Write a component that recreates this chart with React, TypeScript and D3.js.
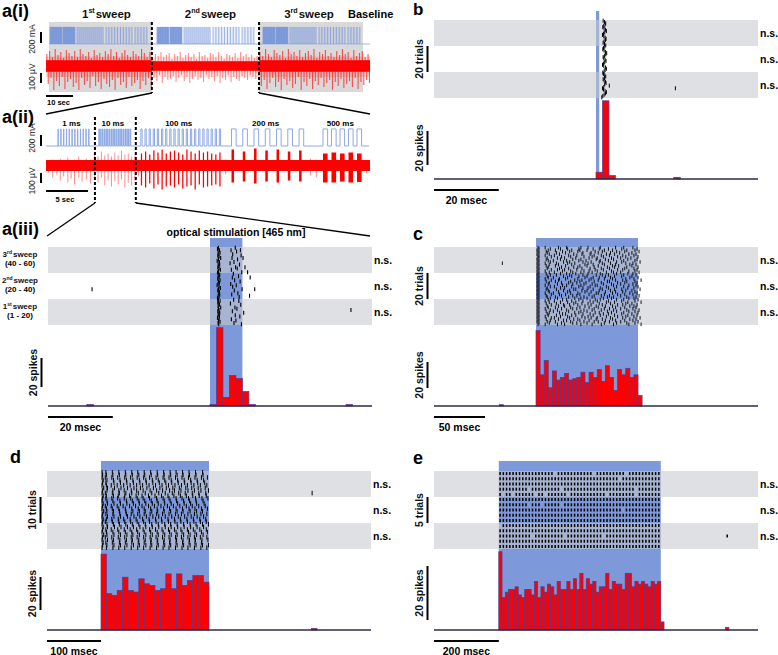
import React from 'react';
import * as d3 from 'd3';

const FONT = "'Liberation Sans', Arial, Helvetica, sans-serif";
const STIM = '#7d99da';
const BAND = '#c6c9ce';
const PULSE = '#7f9de0';
const RED = '#ff0000';
const BAR_STROKE = '#4a3c9c';

// ---------------- a(i) : three sweeps of the protocol ----------------
const aiSweepNames = ['1', '2', '3'];
const aiSweepSups = ['st', 'nd', 'rd'];
const aiSweepEdges = [0, 38, 77.6, 116]; // s
const aiTraceSpan = [-1.1, 118.6]; // s
const aiProtocolStart = [0.37, 39.9, 79.05]; // s
const aiBlockStart = [0, 4.8, 10, 20.7, 31.4]; // s after protocol start
const aiBlockEnd = [4.4, 9.2, 19.6, 30.3, 35.8];
const aiBlockPulses = [18, 18, 14, 10, 5];
const pulseAmpMA = 310;
const aiNoiseUV = [58, 48, 58];
const aiUpUV = [
  [120,150,90,170,110,140,80,160,130,100,150,90,170,120,100,140,80,160,110,130,90,150,120,170,100,140,80,130,160,110,90,150,120,100,170,130,90,140],
  [80,120,100,140,90,110,130,70,120,100,140,80,110,130,90,120,70,140,100,110,80,130,120,90,140,100,70,120,110,90,130,80,140,100,120,90,110,80,100],
  [140,100,170,120,90,160,130,110,150,80,170,120,140,100,160,90,130,150,110,170,80,140,120,160,100,130,90,150,110,170,120,140,80,160,100,130,150,90,120],
];
const aiDownUV = [
  [180,120,240,150,200,110,230,160,130,210,170,240,120,190,150,220,100,200,160,230,130,180,210,140,240,120,190,160,220,110,200,170,140,230,150,190,120,210],
  [120,150,90,170,110,140,130,100,160,120,90,150,110,170,130,100,140,120,160,90,130,110,150,100,170,120,140,90,160,110,130,150,100,120,140,90,110,130,100],
  [200,140,230,170,120,210,160,240,130,190,150,220,180,110,240,160,200,130,230,150,190,120,210,170,140,240,160,200,130,220,180,150,210,120,230,160,190,140,170],
];

// ---------------- a(ii) : one sweep ----------------
const aiiSpan = [0, 38.6]; // s
const aiiTrainLabels = ['1 ms', '10 ms', '100 ms', '200 ms', '500 ms'];
const aiiTrainStart = [1.43, 6.3, 11.3, 22.1, 33.0];
const aiiTrainEnd = [5.12, 10.1, 20.8, 30.7, 37.6];
const aiiTrainPulses = [12, 19, 20, 7, 5];
const aiiPulseWidth = [0.03, 0.06, 0.15, 0.55, 0.55];
const aiiRespWidth = [0, 0, 0.15, 0.3, 0.55];
const aiiDividers = [5.83, 10.7];
const aiiNoiseUV = 55;
const aiiSpont = [
  [0.3,40,70],[0.8,60,120],[1.3,50,90],[1.7,70,150],[2.1,40,110],[2.6,80,170],[3.0,50,130],[3.4,60,190],
  [3.9,90,120],[4.3,50,160],[4.8,70,140],[5.3,60,180],[5.8,110,130],[6.2,90,170],[6.6,140,120],[7.0,100,200],
  [7.4,120,150],[7.8,90,210],[8.2,130,160],[8.6,100,190],[9.0,150,140],[9.4,110,220],[9.8,120,170],[10.2,90,200],
  [10.6,100,150],[11.0,60,110],[21.4,60,90],[31.5,70,100],[32.2,60,120],[38.2,50,80],
];
const aiiRespUp = [
  [], [],
  [120,140,110,150,130,160,120,140,150,130,110,160,140,120,150,130,140,120,110,130],
  [160,140,170,150,160,140,150],
  [120,130,120,130,120],
];
const aiiRespDown = [
  [], [],
  [200,220,180,230,190,240,210,200,220,190,230,210,200,240,190,220,210,200,190,210],
  [170,160,180,160,170,150,160],
  [170,170,160,170,165],
];

// ---------------- a(iii) : 10 ms pulses ----------------
const a3RowNames = ['3', '2', '1'];
const a3RowSups = ['rd', 'nd', 'st'];
const a3RowRanges = ['(40 - 60)', '(20 - 40)', '(1 - 20)'];
const a3Trials = [
  [2.6,7.8],[2.3],[2.9,6.5,9.4],[2.5,8.2],[3.1],[2.7,7.0],[2.4,9.6],[2.8],[3.3,6.8,10.2],[2.6,8.5],
  [2.2],[2.9,7.4],[2.5,6.2],[3.0,9.1],[2.7],[2.4,7.9,10.8],[2.8,8.4],[3.2,6.6],[2.6],[2.3,9.8,11.6],
  [2.7,7.2],[3.0],[2.5,8.8],[2.8,6.9,12.4],[2.4],[3.1,7.6],[2.6,9.3],[2.9],[2.5,6.4],[2.2,8.1],
  [2.8,7.0],[3.2],[-36.4,2.6,9.9,13.8],[2.4,7.5],[2.9],[2.7,8.6],[3.0,6.7],[2.5,12.2],[2.8,9.0],[2.3],
  [2.6,7.3],[3.1,8.9],[2.4],[2.7,6.3],[2.9,9.5],[2.5],[3.3,7.7],[2.6,8.3],[2.8,43.5],[2.4,6.9],
  [3.0,10.4],[2.7],[2.5,7.8],[2.9,9.2],[2.3],[2.8,6.6],[2.6,8.0],[3.1],[2.5,7.4],[2.7,9.7],
];
const a3Hist = [1, 54, 6, 21, 19, 10, 1];
const a3HistExtra = [[-38, 1], [42, 1]];

// ---------------- b : 1 ms pulses ----------------
const bLatency = [
  2.2,2.6,3.0,2.8,2.4,2.1,2.5,2.9,3.2,2.7,2.3,2.0,2.4,2.8,3.1,2.9,2.5,2.2,2.6,3.0,
  2.7,2.3,2.1,2.5,2.9,3.3,3.0,2.6,2.2,2.4,2.8,3.1,2.7,2.3,2.0,2.4,2.9,3.2,2.8,2.5,
  2.1,2.3,2.7,3.0,2.6,2.2,2.5,2.9,3.1,2.7,4.1,2.4,2.0,2.3,2.8,3.2,2.9,2.5,2.1,1.8,
];
const bExtra = [[52, 24.5]];
const bHist = [4, 46, 2];
const bHistExtra = [[24, 1]];

// ---------------- c : 100 ms pulses ----------------
const cTrials = [
  [2,9,22,30,44,51,63,78,86,95],[3,14,24,31,42,56,62,71,84,99],[1,12,19,35,43,50,67,75,89,97],
  [2,10,26,33,41,58,65,79,87,101],[3,11,20,29,46,54,61,73,82,94],[1,13,23,37,45,53,69,77,91,98],
  [2,9,18,32,40,57,64,72,85,96],[3,15,25,34,47,55,66,80,88,100],[2,11,21,28,39,52,60,74,83,93],
  [1,10,24,36,44,59,68,76,90,99],[3,12,17,30,42,49,63,71,86,97],[2,14,27,33,46,54,62,79,84,102],
  [1,9,20,31,38,51,65,73,88,95],[3,13,22,35,48,56,67,78,92,98],[2,10,19,29,43,50,61,75,81,94],
  [1,12,25,37,41,57,70,77,89,100],[3,11,23,32,45,53,64,72,87,96],[2,15,21,28,40,58,66,80,85,99],
  [1,9,26,34,47,52,60,74,91,97],[3,13,18,36,44,55,69,76,83,101],[2,10,24,30,39,51,63,79,90,95],
  [1,14,20,33,46,59,65,71,86,98],[3,11,27,35,42,50,68,77,84,94],[2,12,17,31,48,56,62,73,92,100],
  [1,9,23,29,41,54,67,75,88,96],[3,15,22,38,45,52,61,78,85,103],[2,10,19,34,43,57,70,72,89,97],
  [1,13,25,32,40,49,64,80,87,99],[3,12,21,36,47,55,66,74,83,95],[2,9,26,30,44,58,60,76,91,98],
  [1,14,18,35,42,53,69,79,86,100],[3,11,24,28,46,51,63,71,90,96],[2,10,20,37,39,56,65,77,84,102],
  [1,12,27,33,45,50,62,73,88,94],[3,13,22,31,48,54,68,78,85,97],[2,9,17,34,41,59,61,75,92,99],
  [1,15,23,29,43,52,67,80,87,95],[3,10,25,36,40,57,64,72,83,101],[2,11,19,32,47,55,70,76,89,98],
  [1,14,21,38,44,50,66,74,91,96],[3,12,26,30,42,58,63,79,86,100],[2,9,18,35,46,53,60,71,84,97],
  [1,13,24,31,39,56,69,77,90,103],[3,10,20,37,45,51,62,73,88,94],[2,15,27,33,41,54,65,80,85,99],
  [1,11,22,28,48,59,68,75,92,96],[3,12,19,34,43,52,61,78,87,98],[2,9,25,36,40,57,67,72,83,95],
  [1,14,21,30,47,55,64,76,89,101],[3,10,17,32,44,50,70,79,91,97],[2,13,23,38,42,58,62,74,86,100],
  [1,11,26,29,46,53,66,71,84,94],[3,12,20,35,39,56,63,77,90,99],[2,9,24,31,45,51,69,80,88,96],
  [1,15,18,33,48,54,60,73,85,102],[3,10,22,37,41,59,65,75,92,98],[2,14,27,30,43,52,68,78,87,95],
  [1,11,19,34,47,57,61,72,83,100],[3,13,25,36,40,50,67,79,89,97],[2,9,21,28,44,55,64,76,91,103],
];
const cExtra = [[12, -33]];
const cHist = [58,24,35,14,27,20,22,25,20,21,22,26,18,26,22,28,19,31,22,12,28,24,29,22,24,8];
const cHistExtra = [[-36, 1]];

// ---------------- d : 200 ms pulses ----------------
const dTrials = [
  [2,9,21,33,45,57,68,80,92,104,116,128,139,151,163,175,188],
  [3,10,22,34,46,58,70,81,93,105,117,129,141,152,164,176,189],
  [2,8,20,31,44,55,67,79,90,102,115,126,138,150,162,174,186,197],
  [4,11,23,35,47,59,71,83,95,106,118,130,142,154,166,178,190],
  [3,9,24,36,48,60,72,84,96,108,120,131,143,155,167,179,192],
  [2,10,19,30,42,54,66,77,89,101,113,125,137,149,160,172,184,196],
  [5,12,25,37,49,61,73,85,97,109,121,133,145,157,168,180,193],
  [3,11,22,33,43,56,66,78,91,103,114,127,136,148,161,173,185,199],
  [2,8,21,34,46,57,69,82,94,107,119,132,144,156,169,181,194],
  [4,10,23,32,44,53,65,76,88,100,112,124,135,147,158,170,182,195],
  [3,9,20,31,43,55,67,78,90,103,115,126,139,150,162,175,187,198],
  [2,11,22,35,47,58,70,81,93,104,117,128,140,153,164,176,189],
  [4,12,24,36,48,60,71,83,95,106,118,130,142,154,166,177,191],
  [3,8,19,30,41,53,64,76,88,99,111,123,134,146,158,169,181,193],
  [2,10,21,33,45,57,69,80,92,104,116,127,139,151,163,174,186,197],
  [5,11,23,34,46,59,71,82,94,105,117,129,141,152,165,177,188],
  [3,9,22,35,47,56,68,80,91,103,114,126,138,149,161,173,185,196],
  [2,12,24,36,49,61,72,84,96,107,119,131,143,155,167,178,190],
  [4,10,20,32,42,54,65,77,89,101,112,124,136,147,159,171,183,194],
  [3,8,21,33,44,55,67,79,90,102,113,125,137,148,160,172,184,195],
  [2,11,23,34,46,58,70,82,94,106,118,129,141,153,165,176,188,199],
  [4,12,25,37,49,60,72,83,95,107,119,130,142,154,166,178,190],
  [3,9,19,31,43,54,66,78,90,101,113,125,136,148,160,171,183,195],
  [2,10,22,33,45,57,68,80,92,104,115,127,139,150,162,174,186,197],
  [5,11,24,36,48,59,71,83,95,106,118,130,141,153,165,177,189],
  [3,8,20,32,44,56,67,79,91,102,114,126,138,149,161,173,184,196],
  [2,12,23,35,47,58,70,82,93,105,117,128,140,152,164,175,187,198],
  [4,9,21,34,45,57,69,80,92,104,116,127,139,151,163,174,186],
  [3,11,24,36,48,60,71,83,94,106,118,129,141,153,165,176,188,199],
  [2,10,22,33,44,56,68,79,91,103,115,126,138,150,161,173,185,196],
];
const dExtra = [[8, 391]];
const dHist = [46,22,21,24,32,24,23,31,28,27,24,25,34,25,34,27,30,33,33,29];
const dHistExtra = [[390, 1]];

// ---------------- e : 500 ms pulses (one slot per 10 ms) ----------------
const eTrials = [
  '11111111111111111011111111111011111111101111111111',
  '11111111111111111111111111111111111110111111111111',
  '11111111111111111111111111111111111111111111111111',
  '11111111101111111110111111111111111111111101111111',
  '10110111111011011111101111111111101111111101111111',
  '11111111111111111111111111111111111111111111111111',
  '11111111101110111110111111111111111111111111111111',
  '11111111111111111111111111111111111111011111111111',
  '11111111111111111111111111111111111111111111111111',
  '11111111111111111111111111111111111111111111111111',
  '01111111111111111111111111111111111111111111111111',
  '11111111111111111111111111111111111111111111111111',
  '11111111110111111111011111111111011111111111111111',
  '11111111111111111111111111111111111111111111111111',
  '11111111111111111111111111111111111111111111111111',
];
const eSlotMs = 10;
const eExtra = [[12, 705]];
const eHist = [29,12,14,15,15,16,13,12,15,15,13,18,12,16,14,17,16,13,18,15,15,18,15,19,15,21,15,19,17,18,14,16,16,21,15,18,17,17,15,21,21,16,18,17,18,17,16,18,17,18,3];
const eHistExtra = [[700, 1]];

const nsLabels = ['n.s.', 'n.s.', 'n.s.'];

// ====================================================================

function SupText({ x, y, main, sup, rest, size, anchor = 'middle' }: any) {
  return (
    <text x={x} y={y} fontSize={size} fontWeight="bold" textAnchor={anchor} fill="#111">
      {main}
      <tspan fontSize={size * 0.62} dy={-size * 0.4}>{sup}</tspan>
      <tspan dy={size * 0.4} dx={1}>{rest}</tspan>
    </text>
  );
}

function VLabel({ x, y, text, size = 10.5, weight = 'bold', fill = '#111' }: any) {
  return (
    <text transform={`translate(${x},${y}) rotate(-90)`} textAnchor="middle" fontSize={size} fontWeight={weight} fill={fill}>
      {text}
    </text>
  );
}

function PanelAi() {
  const x = d3.scaleLinear().domain([aiSweepEdges[0], aiSweepEdges[3]]).range([49, 363]);
  const yB = d3.scaleLinear().domain([0, 200]).range([44, 33]);
  const yR = d3.scaleLinear().domain([0, 100]).range([66, 56]);
  const out: any[] = [];
  [[0, 1], [2, 3]].forEach(([a, b], i) => {
    out.push(<rect key={'g' + i} x={x(aiSweepEdges[a])} y={22} width={x(aiSweepEdges[b]) - x(aiSweepEdges[a])} height={70} fill="#d9d9d9" />);
  });
  // blue stimulation trace
  out.push(<line key="bb" x1={x(0)} x2={x(aiTraceSpan[1])} y1={yB(0)} y2={yB(0)} stroke="#9db3e8" strokeWidth={1} />);
  aiProtocolStart.forEach((p, s) => {
    aiBlockStart.forEach((bs, b) => {
      const t0 = p + bs, t1 = p + aiBlockEnd[b], n = aiBlockPulses[b];
      const w = x(t1) - x(t0);
      const op = Math.min(0.8, (n / w) * 0.45);
      out.push(<rect key={`bf${s}-${b}`} x={x(t0)} y={yB(pulseAmpMA)} width={w} height={yB(0) - yB(pulseAmpMA)} fill={PULSE} opacity={op} />);
      d3.range(n).forEach((k) => {
        const tk = t0 + (k * (t1 - t0)) / (n - 1);
        out.push(<line key={`bp${s}-${b}-${k}`} x1={x(tk)} x2={x(tk)} y1={yB(0)} y2={yB(pulseAmpMA)} stroke="#7393d8" strokeWidth={0.8} opacity={0.85} />);
      });
    });
  });
  // red recording trace
  const spans = [aiTraceSpan[0], aiSweepEdges[1], aiSweepEdges[2], aiTraceSpan[1]];
  aiUpUV.forEach((ups, s) => {
    const a = spans[s], b = spans[s + 1];
    const step = (b - a) / ups.length;
    const op = s === 1 ? 0.5 : 0.75;
    out.push(<rect key={'rm' + s} x={x(a)} y={yR(95)} width={x(b) - x(a)} height={yR(-110) - yR(95)} fill="#ff3030" opacity={s === 1 ? 0.12 : 0.2} />);
    ups.forEach((u, i) => {
      const t = a + (i + 0.3) * step;
      const t2 = a + (i + 0.8) * step;
      out.push(<line key={`ru${s}-${i}`} x1={x(t)} x2={x(t)} y1={yR(u)} y2={yR(0)} stroke="#ff2020" strokeWidth={1.1} opacity={op} />);
      out.push(<line key={`rd${s}-${i}`} x1={x(t2)} x2={x(t2)} y1={yR(0)} y2={yR(-aiDownUV[s][i])} stroke="#ff2020" strokeWidth={1.1} opacity={op} />);
    });
    out.push(<rect key={'rc' + s} x={x(a)} y={yR(aiNoiseUV[s])} width={x(b) - x(a)} height={yR(-aiNoiseUV[s]) - yR(aiNoiseUV[s])} fill={RED} />);
  });
  // sweep dividers
  [1, 2].forEach((k) => {
    out.push(<line key={'dv' + k} x1={x(aiSweepEdges[k])} x2={x(aiSweepEdges[k])} y1={22} y2={93} stroke="#000" strokeWidth={2} strokeDasharray="3 2" />);
  });
  // labels
  out.push(<text key="lab" x={2} y={17} fontSize={18} fontWeight="bold">a(i)</text>);
  aiSweepNames.forEach((n, i) => {
    const cx = x((aiSweepEdges[i] + aiSweepEdges[i + 1]) / 2) + [6, 5, -2][i];
    out.push(<SupText key={'sl' + i} x={cx} y={18} main={n} sup={aiSweepSups[i]} rest="sweep" size={11.5} />);
  });
  out.push(<text key="bl" x={348} y={18} fontSize={11} fontWeight="bold">Baseline</text>);
  // scale bars
  const mAlen = yB(0) - yB(200);
  out.push(<line key="sb1" x1={41} x2={41} y1={32} y2={32 + mAlen} stroke="#000" strokeWidth={2} />);
  out.push(<VLabel key="vl1" x={35} y={39} text="200 mA" size={8.5} weight="normal" fill="#222" />);
  const uvLen = yR(0) - yR(100);
  out.push(<line key="sb2" x1={41} x2={41} y1={73} y2={73 + uvLen} stroke="#000" strokeWidth={2} />);
  out.push(<VLabel key="vl2" x={35} y={77} text="100 µV" size={8.5} weight="normal" fill="#222" />);
  out.push(<line key="sb3" x1={46} x2={46 + x(10) - x(0)} y1={96} y2={96} stroke="#000" strokeWidth={2} />);
  out.push(<text key="sbt" x={47} y={105} fontSize={7.5} fontWeight="bold">10 sec</text>);
  return <g>{out}</g>;
}

function PanelAii() {
  const x = d3.scaleLinear().domain(aiiSpan).range([46, 370]);
  const yB = d3.scaleLinear().domain([0, 200]).range([146, 135]);
  const yR = d3.scaleLinear().domain([0, 100]).range([165.5, 155.5]);
  const out: any[] = [];
  // blue step trace
  const path = d3.path();
  path.moveTo(x(aiiSpan[0]), yB(0));
  aiiTrainStart.forEach((t0, i) => {
    const n = aiiTrainPulses[i], w = aiiPulseWidth[i];
    const step = (aiiTrainEnd[i] - w - t0) / (n - 1);
    d3.range(n).forEach((k) => {
      const ts = t0 + k * step;
      path.lineTo(x(ts), yB(0));
      path.lineTo(x(ts), yB(pulseAmpMA));
      path.lineTo(x(ts + w), yB(pulseAmpMA));
      path.lineTo(x(ts + w), yB(0));
    });
  });
  path.lineTo(x(aiiSpan[1]) - 1, yB(0));
  out.push(<path key="bp" d={path.toString()} fill="none" stroke="#8ea9e4" strokeWidth={1} />);
  // red trace
  aiiSpont.forEach(([t, u, dn], i) => {
    out.push(<line key={'sp' + i} x1={x(t)} x2={x(t)} y1={yR(u)} y2={yR(-dn)} stroke="#ff3030" strokeWidth={1} opacity={0.55} />);
  });
  out.push(<rect key="core" x={x(aiiSpan[0])} y={yR(aiiNoiseUV)} width={x(aiiSpan[1]) - x(aiiSpan[0])} height={yR(-aiiNoiseUV) - yR(aiiNoiseUV)} fill={RED} />);
  aiiTrainStart.forEach((t0, i) => {
    const ups = aiiRespUp[i];
    if (!ups.length) return;
    const n = aiiTrainPulses[i], w = aiiPulseWidth[i];
    const step = (aiiTrainEnd[i] - w - t0) / (n - 1);
    ups.forEach((u, k) => {
      const ts = t0 + k * step;
      const wpx = Math.max(1.2, x(aiiRespWidth[i]) - x(0));
      out.push(<rect key={`rs${i}-${k}`} x={x(ts)} y={yR(u)} width={wpx} height={yR(-aiiRespDown[i][k]) - yR(u)} fill={RED} />);
    });
  });
  // dividers
  aiiDividers.forEach((t, i) => {
    out.push(<line key={'dv' + i} x1={x(t)} x2={x(t)} y1={117} y2={203} stroke="#000" strokeWidth={2} strokeDasharray="3 2" />);
  });
  // labels
  out.push(<text key="lab" x={2} y={123} fontSize={18} fontWeight="bold">a(ii)</text>);
  aiiTrainLabels.forEach((l, i) => {
    out.push(<text key={'tl' + i} x={x((aiiTrainStart[i] + aiiTrainEnd[i]) / 2) - 2} y={126} fontSize={8} fontWeight="bold" textAnchor="middle">{l}</text>);
  });
  const mAlen = yB(0) - yB(200);
  out.push(<line key="sb1" x1={41} x2={41} y1={135} y2={135 + mAlen} stroke="#000" strokeWidth={2} />);
  out.push(<VLabel key="vl1" x={35} y={138} text="200 mA" size={8.5} weight="normal" fill="#222" />);
  const uvLen = yR(0) - yR(100);
  out.push(<line key="sb2" x1={41} x2={41} y1={173} y2={173 + uvLen} stroke="#000" strokeWidth={2} />);
  out.push(<VLabel key="vl2" x={35} y={181} text="100 µV" size={8.5} weight="normal" fill="#222" />);
  const secLen = x(5) - x(0);
  out.push(<line key="sb3" x1={46} x2={46 + secLen} y1={191} y2={191} stroke="#000" strokeWidth={2} />);
  out.push(<text key="sbt" x={46 + secLen / 2 - 2} y={202} fontSize={7.5} fontWeight="bold" textAnchor="middle">5 sec</text>);
  // connectors
  const xi = d3.scaleLinear().domain([aiSweepEdges[0], aiSweepEdges[3]]).range([49, 363]);
  out.push(<line key="c1" x1={xi(aiSweepEdges[1])} y1={93} x2={46} y2={114} stroke="#000" strokeWidth={1.3} />);
  out.push(<line key="c2" x1={xi(aiSweepEdges[2])} y1={93} x2={370} y2={114} stroke="#000" strokeWidth={1.3} />);
  out.push(<line key="c3" x1={x(aiiDividers[0])} y1={203} x2={47} y2={236} stroke="#000" strokeWidth={1.3} />);
  out.push(<line key="c4" x1={x(aiiDividers[1])} y1={203} x2={370} y2={236} stroke="#000" strokeWidth={1.3} />);
  return <g>{out}</g>;
}

type PanelProps = {
  x0: number; x1: number; bandTop: number; baseline: number; stimTop: number;
  domain: number[]; stim: number[];
  trials: number[][]; tickH: number; tickW: number;
  histBin: number; hist: number[]; histExtra: number[][];
  spikeBarPx: number; spikeBarTop: number;
  trialLabel?: string; timeBarMs: number; timeLabel: string;
  letter: string; letterX: number; letterY: number; letterSize?: number;
};

function RasterPanel(p: PanelProps) {
  const x = d3.scaleLinear().domain(p.domain).range([p.x0, p.x1]);
  const nT = p.trials.length;
  const yT = d3.scaleLinear().domain([0, nT]).range([p.bandTop, p.bandTop + 78]);
  const yS = d3.scaleLinear().domain([0, 20]).range([p.baseline, p.baseline - p.spikeBarPx]);
  const out: any[] = [];
  out.push(<rect key="stim" x={x(p.stim[0])} y={p.stimTop} width={x(p.stim[1]) - x(p.stim[0])} height={p.baseline - p.stimTop} fill={STIM} />);
  [0, 2].forEach((b) => {
    out.push(<rect key={'band' + b} x={p.x0} y={yT((b * nT) / 3)} width={p.x1 - p.x0} height={yT(nT / 3) - yT(0)} fill={BAND} opacity={0.58} />);
  });
  p.trials.forEach((row, i) => {
    const cy = yT(i + 0.5);
    row.forEach((t, k) => {
      out.push(<line key={`t${i}-${k}`} x1={x(t)} x2={x(t)} y1={cy - p.tickH / 2} y2={cy + p.tickH / 2} stroke="#000" strokeWidth={p.tickW} />);
    });
  });
  const bars = p.hist.map((v, i) => [i * p.histBin, v]).concat(p.histExtra);
  bars.forEach(([t, v], i) => {
    if (!v) return;
    out.push(<rect key={'h' + i} x={x(t)} y={yS(v)} width={x(t + p.histBin) - x(t)} height={yS(0) - yS(v)} fill={RED} stroke={BAR_STROKE} strokeWidth={0.7} />);
  });
  out.push(<line key="axis" x1={p.x0} x2={p.x1} y1={p.baseline} y2={p.baseline} stroke="#2b2b48" strokeWidth={1.5} />);
  nsLabels.forEach((l, b) => {
    out.push(<text key={'ns' + b} x={p.x1 + 2} y={yT(((b + 0.5) * nT) / 3) + 3.5} fontSize={10.5} fontWeight="bold">{l}</text>);
  });
  const bx = p.x0 - 6.5;
  if (p.trialLabel) {
    out.push(<line key="tb" x1={bx} x2={bx} y1={yT(nT / 3)} y2={yT((2 * nT) / 3)} stroke="#000" strokeWidth={2} />);
    out.push(<VLabel key="tbl" x={bx - 5} y={(yT(nT / 3) + yT((2 * nT) / 3)) / 2} text={p.trialLabel} />);
  }
  out.push(<line key="sb" x1={bx} x2={bx} y1={p.spikeBarTop} y2={p.spikeBarTop + p.spikeBarPx} stroke="#000" strokeWidth={2} />);
  out.push(<VLabel key="sbl" x={bx - 5} y={p.spikeBarTop + p.spikeBarPx / 2} text="20 spikes" />);
  const tl = x(p.domain[0] + p.timeBarMs) - p.x0;
  const ty = p.baseline + 11;
  out.push(<line key="xb" x1={p.x0} x2={p.x0 + tl} y1={ty} y2={ty} stroke="#000" strokeWidth={2} />);
  out.push(<text key="xbl" x={p.x0 + tl / 2} y={ty + 13.5} fontSize={10.5} fontWeight="bold" textAnchor="middle">{p.timeLabel}</text>);
  out.push(<text key="let" x={p.letterX} y={p.letterY} fontSize={p.letterSize || 18} fontWeight="bold">{p.letter}</text>);
  return <g>{out}</g>;
}

function withExtra(rows: number[][], extra: number[][]) {
  return rows.map((r, i) => r.concat(extra.filter((e) => e[0] === i).map((e) => e[1])));
}

export default function App() {
  const bTrials = withExtra(bLatency.map((v) => [v]), bExtra);
  const cAll = withExtra(cTrials, cExtra);
  const dAll = withExtra(dTrials, dExtra);
  const eAll = withExtra(
    eTrials.map((s) => s.split('').flatMap((c, k) => (c === '1' ? [k * eSlotMs + 4] : []))),
    eExtra
  );
  return (
    <svg width={778} height={655} style={{ position: 'absolute', left: 0, top: 0, background: '#fff' }} fontFamily={FONT}>
      <PanelAi />
      <PanelAii />
      <RasterPanel x0={48} x1={372} bandTop={247} baseline={406} stimTop={238} domain={[-50, 50]} stim={[0, 10]}
        trials={a3Trials} tickH={4} tickW={1.1} histBin={2} hist={a3Hist} histExtra={a3HistExtra}
        spikeBarPx={29} spikeBarTop={358} timeBarMs={20} timeLabel="20 msec" letter="a(iii)" letterX={2} letterY={235} />
      <text x={236} y={236} fontSize={10.5} fontWeight="bold" textAnchor="middle">optical stimulation [465 nm]</text>
      {a3RowNames.map((n, i) => (
        <g key={'rl' + i}>
          <SupText x={20} y={257 + i * 26} main={n} sup={a3RowSups[i]} rest="sweep" size={8} />
          <text x={20} y={265.5 + i * 26} fontSize={8} fontWeight="bold" textAnchor="middle">{a3RowRanges[i]}</text>
        </g>
      ))}
      <RasterPanel x0={434} x1={758} bandTop={20} baseline={179} stimTop={11} domain={[-50, 50]} stim={[0, 1]}
        trials={bTrials} tickH={4} tickW={1} histBin={2} hist={bHist} histExtra={bHistExtra}
        spikeBarPx={34} spikeBarTop={131} trialLabel="20 trials" timeBarMs={20} timeLabel="20 msec" letter="b" letterX={413} letterY={15} letterSize={17} />
      <RasterPanel x0={434} x1={758} bandTop={247} baseline={406} stimTop={238} domain={[-100, 217.6]} stim={[0, 100]}
        trials={cAll} tickH={3.6} tickW={0.9} histBin={4} hist={cHist} histExtra={cHistExtra}
        spikeBarPx={26} spikeBarTop={362} trialLabel="20 trials" timeBarMs={50} timeLabel="50 msec" letter="c" letterX={413} letterY={240} />
      <RasterPanel x0={47} x1={371} bandTop={471} baseline={630} stimTop={461} domain={[-100, 500]} stim={[0, 200]}
        trials={dAll} tickH={4.6} tickW={1} histBin={10} hist={dHist} histExtra={dHistExtra}
        spikeBarPx={33} spikeBarTop={577} trialLabel="10 trials" timeBarMs={100} timeLabel="100 msec" letter="d" letterX={10} letterY={463} />
      <RasterPanel x0={434} x1={758} bandTop={471} baseline={630} stimTop={461} domain={[-200, 800]} stim={[0, 500]}
        trials={eAll} tickH={3} tickW={1.5} histBin={10} hist={eHist} histExtra={eHistExtra}
        spikeBarPx={54} spikeBarTop={566} trialLabel="5 trials" timeBarMs={200} timeLabel="200 msec" letter="e" letterX={413} letterY={464} />
    </svg>
  );
}
